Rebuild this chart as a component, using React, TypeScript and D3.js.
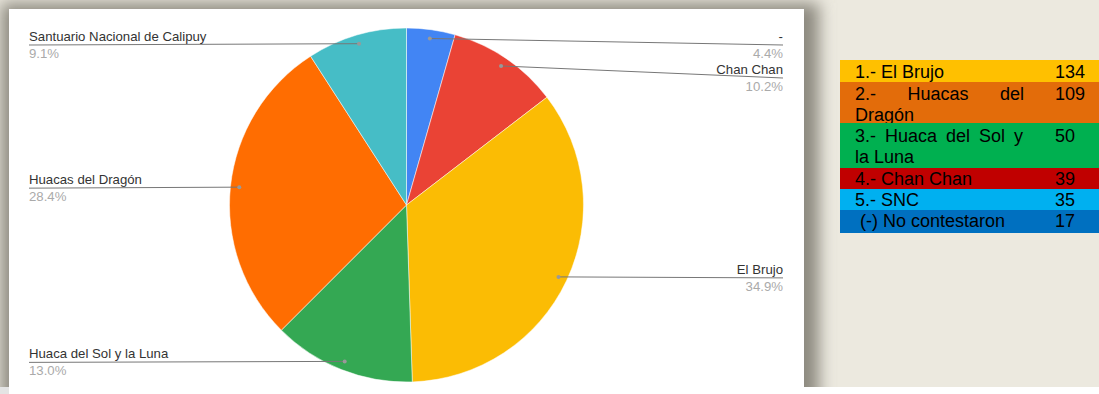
import React from "react";
import * as d3 from "d3";

// Pie data (clockwise from 12 o'clock)
const pieLabels = ["-", "Chan Chan", "El Brujo", "Huaca del Sol y la Luna", "Huacas del Dragón", "Santuario Nacional de Calipuy"];
const pieValues = [17, 39, 134, 50, 109, 35];
const pieColors = ["#4285F4", "#EA4335", "#FBBC04", "#34A853", "#FF6D01", "#46BDC6"];

// Legend table
const tableLines = [["1.- El Brujo"], ["2.- Huacas del", "Dragón"], ["3.- Huaca del Sol y", "la Luna"], ["4.- Chan Chan"], ["5.- SNC"], [" (-) No contestaron"]];
const tableCounts = [134, 109, 50, 39, 35, 17];
const tableColors = ["#FFC000", "#E36C0A", "#00B050", "#C00000", "#00B0F0", "#0070C0"];

const W = 1099, H = 394;
const cx = 406.5, cy = 205, R = 177;
const font = "'Liberation Sans', Arial, sans-serif";
const tFont = 18;

let ctx: CanvasRenderingContext2D | null = null;
function measure(t: string, size: number) {
  if (!ctx) ctx = document.createElement("canvas").getContext("2d");
  if (!ctx) return t.length * size * 0.5;
  ctx.font = `${size}px 'Liberation Sans', Arial, sans-serif`;
  return ctx.measureText(t).width;
}

function Justified({ text, x0, x1, y, size }: { text: string; x0: number; x1: number; y: number; size: number }) {
  const words = text.split(" ");
  const widths = words.map((w) => measure(w, size));
  const gap = (x1 - x0 - d3.sum(widths)) / (words.length - 1);
  let x = x0;
  return (
    <>
      {words.map((w, k) => {
        const el = <text key={k} x={x} y={y}>{w}</text>;
        x += widths[k] + gap;
        return el;
      })}
    </>
  );
}

export default function App() {
  const pie = d3.pie<number>().sort(null).value((d) => d)(pieValues);
  const arc = d3.arc<d3.PieArcDatum<number>>().innerRadius(0).outerRadius(R);
  const total = d3.sum(pieValues);
  const fmt = d3.format(".1%");

  // label layout
  const items = pie.map((p, i) => {
    const a = (p.startAngle + p.endAngle) / 2;
    const r = R * 0.95;
    return { i, a, dx: cx + r * Math.sin(a), dy: cy - r * Math.cos(a), right: a < Math.PI };
  });
  const place = (list: typeof items) => {
    const sorted = [...list].sort((a, b) => a.dy - b.dy);
    let prev = -Infinity;
    return sorted.map((it) => {
      const ly = Math.max(it.dy + 1, prev + 33, 45);
      prev = ly;
      return { ...it, ly };
    });
  };
  const labels = [...place(items.filter((d) => d.right)), ...place(items.filter((d) => !d.right))];

  // table layout
  const tX = 840, tW = 259, tTop = 60;
  const rowH = [22, 41, 45, 21, 21, 23];
  let acc = tTop;
  const rowY = rowH.map((h) => { const y = acc; acc += h; return y; });
  const base = [18, 18, 19, 17, 17, 17];
  const justRight = [0, 1024, 1023, 0, 0, 0];

  return (
    <svg width={W} height={H} style={{ position: "absolute", left: 0, top: 0 }}>
      <defs>
        <filter id="sh" x="-10%" y="-10%" width="120%" height="120%">
          <feGaussianBlur stdDeviation="8" />
        </filter>
      </defs>
      <rect x={0} y={0} width={W} height={H} fill="#ECE9DF" />
      <rect x={1} y={3} width={818} height={420} fill="#8d8a80" filter="url(#sh)" />
      <rect x={9} y={9} width={795} height={H} fill="#ffffff" />
      <rect x={0} y={387} width={W} height={7} fill="#ffffff" />
      <rect x={0} y={387} width={9} height={7} fill="#e4e4e4" />

      {pie.map((p, i) => (
        <path key={i} d={arc(p) || ""} transform={`translate(${cx},${cy})`} fill={pieColors[i]} stroke="#ffffff" strokeWidth={0.5} />
      ))}

      {labels.map((l) => {
        const ex = l.right ? 783 : 29;
        const anchor = l.right ? "end" : "start";
        return (
          <g key={l.i} fontFamily={font} fontSize={13.2}>
            <line x1={l.dx} y1={l.dy} x2={ex} y2={l.ly} stroke="#777" strokeWidth={1} />
            <circle cx={l.dx} cy={l.dy} r={2} fill="#999" />
            <text x={ex} y={l.ly - 4} textAnchor={anchor} fill="#333">{pieLabels[l.i]}</text>
            <text x={ex} y={l.ly + 13} textAnchor={anchor} fill="#aaa">{fmt(pieValues[l.i] / total)}</text>
          </g>
        );
      })}

      {tableLines.map((lines, i) => (
        <g key={i} fontFamily={font} fontSize={tFont} fill="#000">
          <rect x={tX} y={rowY[i]} width={tW} height={rowH[i]} fill={tableColors[i]} />
          {lines.map((t, j) => {
            const y = rowY[i] + base[i] + j * 20.5;
            if (lines.length > 1 && j === 0)
              return <Justified key={j} text={t} x0={855} x1={justRight[i]} y={y} size={tFont} />;
            return <text key={j} x={855} y={y} xmlSpace="preserve">{t}</text>;
          })}
          <text x={1055} y={rowY[i] + base[i]}>{tableCounts[i]}</text>
        </g>
      ))}
    </svg>
  );
}
